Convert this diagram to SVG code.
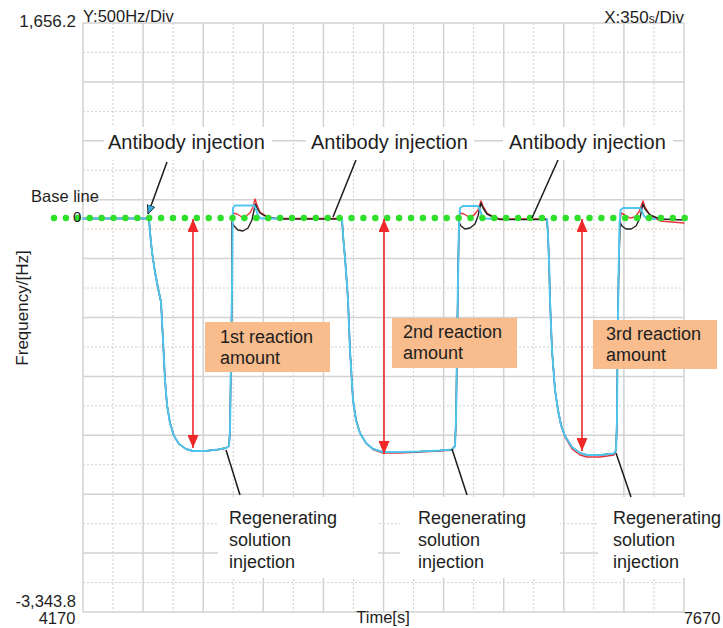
<svg xmlns="http://www.w3.org/2000/svg" width="723" height="628" viewBox="0 0 723 628">
<style>
  text { font-family: "Liberation Sans", Arial, "Helvetica", sans-serif; fill: #1e1e1e; }
  .g-solid { stroke: #d2d2d2; stroke-width: 1.5; fill: none; }
  .g-dash { stroke: #cfcfcf; stroke-width: 1; stroke-dasharray: 2 2; fill: none; }
  .trace { fill: none; stroke-linejoin: round; stroke-linecap: round; }
  .cyan { stroke: #4ec6ee; stroke-width: 2; }
  .black { stroke: #222; stroke-width: 1.4; }
  .red { stroke: #e8323a; stroke-width: 1.4; }
  .lead { stroke: #1a1a1a; stroke-width: 1.5; fill: none; }
  .amt { stroke: #f0282a; stroke-width: 1.6; fill: none; marker-start: url(#ah); marker-end: url(#ah); }
  .box { fill: #f8bc8d; }
  .bg { fill: #ffffff; }
  .lbl { font-size: 18px; }
  .ab { font-size: 20px; }
  .ax { font-size: 16.5px; }
</style>
<defs>
  <marker id="ah" viewBox="0 0 13 11" refX="13" refY="5.5" markerWidth="13" markerHeight="11" markerUnits="userSpaceOnUse" orient="auto-start-reverse">
    <path d="M0,0 L13,5.5 L0,11 z" fill="#f0282a"/>
  </marker>
  <marker id="ab" viewBox="0 0 9 8" refX="9" refY="4" markerWidth="9" markerHeight="8" markerUnits="userSpaceOnUse" orient="auto">
    <path d="M0,0 L9,4 L0,8 z" fill="#3aaee0" stroke="#1a1a1a" stroke-width="0.8"/>
  </marker>
</defs>
<rect width="723" height="628" fill="#ffffff"/>

<g id="grid">
  <path class="g-dash" d="M113.05,23V612 M173.15,23V612 M233.25,23V612 M293.35,23V612 M353.45,23V612 M413.55,23V612 M473.65,23V612 M533.75,23V612 M593.85,23V612 M653.95,23V612"/>
  <path class="g-dash" d="M83,52.45H684 M83,111.35H684 M83,170.25H684 M83,288.05H684 M83,346.95H684 M83,405.85H684 M83,464.75H684 M83,523.65H684 M83,582.55H684"/>
  <path class="g-dash" d="M83,229.15H684" style="stroke:#eec7b4"/>
  <path class="g-solid" d="M83,23V612 M143.1,23V612 M203.2,23V612 M263.3,23V612 M323.4,23V612 M383.5,23V612 M443.6,23V612 M503.7,23V612 M563.8,23V612 M623.9,23V612 M684,23V612"/>
  <path class="g-solid" d="M83,23H684 M83,81.9H684 M83,140.8H684 M83,199.7H684 M83,258.6H684 M83,317.5H684 M83,376.4H684 M83,435.3H684 M83,494.2H684 M83,553.1H684 M83,612H684"/>
</g>

<g id="label-backgrounds">
  <rect class="bg" x="104" y="127" width="168" height="33"/>
  <rect class="bg" x="306" y="127" width="168" height="33"/>
  <rect class="bg" x="503" y="127" width="170" height="33"/>
  <rect class="bg" x="218" y="497" width="160" height="81"/>
  <rect class="bg" x="400" y="497" width="160" height="81"/>
  <rect class="bg" x="598" y="497" width="125" height="81"/>
</g>

<g id="axes-labels">
  <text x="76" y="27" text-anchor="end" style="font-size:17px">1,656.2</text>
  <text x="83" y="22" style="font-size:16.5px">Y:500Hz/Div</text>
  <text x="684" y="23" text-anchor="end" style="font-size:17px">X:350<tspan style="font-size:12px">s</tspan>/Div</text>
  <text class="ax" x="76" y="607" text-anchor="end">-3,343.8</text>
  <text class="ax" x="57" y="624" text-anchor="middle">4170</text>
  <text class="ax" x="383" y="623" text-anchor="middle">Time[s]</text>
  <text class="ax" x="702" y="624" text-anchor="middle">7670</text>
  <text class="ax" transform="translate(28,308) rotate(-90)" text-anchor="middle" style="font-size:17px">Frequency/[Hz]</text>
  <text x="31" y="202" style="font-size:16.5px">Base line</text>
</g>

<g id="traces">
  <path class="trace red" d="M83,218.5 L149,218.5 L150,232 L152,252 L155,272 L158,288 L161,302 L163,340 L165,380 L167,405 L170,423 L174,436 L179,444 L186,449 L193,451 L205,451 L218,449.5 L226,448 L229,446 L230,430 L231,360 L232,290 L232,222 L233,213 L237,214 L242,217 L246,216 L250,213 L253,207 L255,199 L257,205 L260,212 L266,216 L275,218.5 L342,218.5 L343,235 L345,258 L347,285 L348,300 L350,350 L353,400 L356,420 L360,433 L366,443 L373,449.5 L383,453 L400,453 L420,452 L440,451 L452,450 L455,446 L456,420 L457,350 L458,280 L459,222 L460,213 L464,214 L469,217 L474,215 L478,210 L481,201 L483,206 L487,213 L495,218 L500,219 L547,219 L548,235 L549,260 L550,300 L552,350 L555,390 L558,410 L561,425 L565,437 L572,449 L580,455 L587,457 L600,457 L614,455 L616,451 L617,420 L617.5,350 L618.5,280 L620,222 L621,213 L625,215 L630,218 L635,217 L639,212 L643,201 L645,207 L650,215 L660,221 L684,223"/>
  <path class="trace black" d="M83,218.5 L149,218.5 L150,232 L152,252 L155,272 L158,288 L161,302 L163,340 L165,380 L167,405 L170,423 L174,436 L179,444 L186,449 L193,451 L205,451 L218,449.5 L226,448 L229,446 L230,430 L231,360 L232,290 L232,222 L234,226 L238,230 L243,231 L248,228 L252,220 L254,210 L255.5,204 L257,208 L260,213 L265,216 L272,218 L280,219 L342,219 L343,235 L345,258 L347,285 L348,300 L350,350 L353,400 L356,420 L360,433 L366,443 L373,449 L383,452 L400,452 L420,451.5 L440,450.5 L452,449.5 L455,446 L456,420 L457,350 L458,280 L459,222 L461,226 L465,229 L470,228 L475,224 L478,216 L480,207 L481,203 L483,208 L487,214 L493,217 L500,219.5 L547,219.5 L548,235 L549,260 L550,300 L552,350 L555,390 L558,410 L561,425 L565,436 L572,447 L580,453 L587,455 L600,455 L614,453.5 L616,450 L617,420 L617.5,350 L618.5,280 L620,222 L622,226 L626,229 L631,229 L636,226 L640,218 L642,208 L643,204 L645,209 L650,215 L660,219 L684,220"/>
  <path class="trace cyan" d="M83,218.5 L149,218.5 L150,232 L152,252 L155,272 L158,288 L161,302 L163,340 L165,380 L167,405 L170,423 L174,436 L179,444 L186,449 L193,451 L205,451 L218,449.5 L226,448 L229,446 L230,430 L231,360 L232,290 L232.5,230 L233,208 L235,205.5 L254,205.5 L256,209 L258,216 L261,218.5 L280,218.5 M342,218.5 L343,235 L345,258 L347,285 L348,300 L350,350 L353,400 L356,420 L360,433 L366,443 L373,449 L383,452 L400,452 L420,451.5 L440,450.5 L452,449.5 L455,446 L456,420 L457,350 L458,280 L459,225 L460,208 L463,206 L478,206 L480,210 L482,216 L485,218.5 L495,219 M547,219 L548,235 L549,260 L550,300 L552,350 L555,390 L558,410 L561,425 L565,436 L572,447 L580,453 L587,455 L600,455 L614,453.5 L616,450 L617,420 L617.5,350 L618.5,280 L619.5,225 L620.5,210 L623,208 L640,208 L642,211 L644,216 L647,218.5 L655,219"/>
</g>

<g id="baseline">
  <path d="M54,218 H685" fill="none" stroke="#2ee02a" stroke-width="6.5" stroke-linecap="round" stroke-dasharray="0 11.9"/>
  <text x="73" y="222" style="font-size:15px">0</text>
</g>

<g id="connectors">
  <path class="lead" d="M167,162 L148,214" marker-end="url(#ab)"/>
  <path class="lead" d="M356,160 L333,217"/>
  <path class="lead" d="M558,160 L532,218"/>
  <path class="lead" d="M226,450 L240,495"/>
  <path class="lead" d="M452,449 L467,495"/>
  <path class="lead" d="M616,453 L631,497"/>
  <path class="amt" d="M193,219 V448"/>
  <path class="amt" d="M384,219 V454"/>
  <path class="amt" d="M582,219 V451"/>
</g>

<g id="antibody-1"><text class="ab" x="108" y="149">Antibody injection</text></g>
<g id="antibody-2"><text class="ab" x="311" y="149">Antibody injection</text></g>
<g id="antibody-3"><text class="ab" x="509" y="149">Antibody injection</text></g>

<g id="reaction-1">
  <rect class="box" x="205" y="322" width="125" height="50"/>
  <text class="lbl" x="220" y="343">1st reaction</text>
  <text class="lbl" x="220" y="364">amount</text>
</g>
<g id="reaction-2">
  <rect class="box" x="392" y="318" width="125" height="50"/>
  <text class="lbl" x="403" y="338">2nd reaction</text>
  <text class="lbl" x="403" y="359">amount</text>
</g>
<g id="reaction-3">
  <rect class="box" x="593" y="320" width="124" height="49"/>
  <text class="lbl" x="606" y="340">3rd reaction</text>
  <text class="lbl" x="606" y="361">amount</text>
</g>

<g id="regen-1">
  <text class="lbl" x="229" y="524">Regenerating</text>
  <text class="lbl" x="229" y="546">solution</text>
  <text class="lbl" x="229" y="568">injection</text>
</g>
<g id="regen-2">
  <text class="lbl" x="418" y="524">Regenerating</text>
  <text class="lbl" x="418" y="546">solution</text>
  <text class="lbl" x="418" y="568">injection</text>
</g>
<g id="regen-3">
  <text class="lbl" x="613" y="524">Regenerating</text>
  <text class="lbl" x="613" y="546">solution</text>
  <text class="lbl" x="613" y="568">injection</text>
</g>
</svg>
